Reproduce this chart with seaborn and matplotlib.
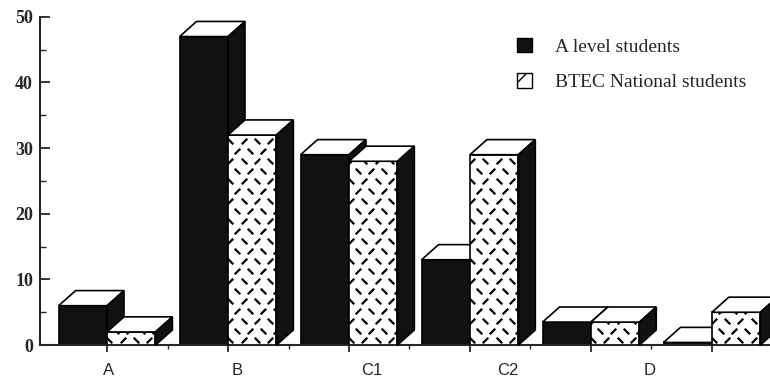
import numpy as np
import pandas as pd
import matplotlib
matplotlib.use('Agg')
import matplotlib.pyplot as plt
import seaborn as sns
from matplotlib.patches import Polygon, Patch
from matplotlib.path import Path
from matplotlib.transforms import ScaledTranslation

grades = ['A', 'B', 'C1', 'C2', 'D', 'E']
tick_labels = ['A', 'B', 'C1', 'C2', 'D', '']
a_level = [6, 47, 29, 13, 3.5, 0.4]
btec = [2, 32, 28, 29, 3.5, 5]
series = ['A level students', 'BTEC National students']

df = pd.DataFrame({
    'grade': grades * 2,
    'pct': a_level + btec,
    'group': [series[0]] * len(grades) + [series[1]] * len(grades),
})

sns.set_style('ticks')
plt.rcParams['font.family'] = ['Liberation Serif', 'DejaVu Serif']

dark = '#111111'
fig = plt.figure(figsize=(7.7, 3.83), dpi=100)
ax = fig.add_axes([0.052, 0.099, 0.948, 0.857])

sns.barplot(data=df, x='grade', y='pct', hue='group', palette=[dark, 'white'],
            edgecolor='black', linewidth=1.2, width=0.8, saturation=1,
            errorbar=None, legend=False, ax=ax)

# fake 3d: top and side faces on each bar
dx, dy = 0.14, 2.3
back = Path([(-1, 1), (1, -1)], [Path.MOVETO, Path.LINETO])
fwd = Path([(-1, -1), (1, 1)], [Path.MOVETO, Path.LINETO])
for k, cont in enumerate(ax.containers):
    z = 2 + k
    for bar in cont:
        x0, w, h = bar.get_x(), bar.get_width(), bar.get_height()
        x1 = x0 + w
        bar.set_zorder(z)
        top = Polygon([(x0, h), (x1, h), (x1 + dx, h + dy), (x0 + dx, h + dy)],
                      facecolor='white', edgecolor='black', lw=1.2, zorder=z, clip_on=False)
        side = Polygon([(x1, 0), (x1 + dx, dy), (x1 + dx, h + dy), (x1, h)],
                       facecolor=dark, edgecolor='black', lw=1.2, zorder=z, clip_on=False)
        ax.add_patch(top)
        ax.add_patch(side)
        if k == 1:
            # tread-plate texture on the BTEC front face
            pts = {0: ([], []), 1: ([], [])}
            for r, yy in enumerate(np.arange(0.7, h + 1, 1.52)):
                off = (r % 2) * 0.054
                for i, xx in enumerate(np.arange(x0 + 0.02 + off, x1 + 0.05, 0.108)):
                    o = (i + r // 2) % 2
                    pts[o][0].append(xx)
                    pts[o][1].append(yy)
            for o, mk in ((0, back), (1, fwd)):
                ln, = ax.plot(pts[o][0], pts[o][1], ls='none', marker=mk, markersize=4,
                              markeredgewidth=1.6, color='black', zorder=z + 0.5)
                ln.set_clip_path(bar)

ax.set_xlim(-0.554, 5.48)
ax.set_ylim(0, 50)
ax.set_yticks(range(0, 51, 10))
ax.set_yticks(range(5, 50, 10), minor=True)
ax.set_xticks(range(len(grades)))
ax.set_xticks(np.arange(0.5, 5, 1), minor=True)
ax.set_xticklabels(tick_labels, fontfamily='Liberation Sans', fontsize=12)
ax.set_xlabel('')
ax.set_ylabel('')

ax.tick_params(axis='y', which='major', direction='in', length=7, width=1.3,
               labelsize=13, pad=5)
ax.tick_params(axis='y', which='minor', direction='in', length=4, width=1)
ax.tick_params(axis='x', which='major', direction='out', length=5, width=1.3, pad=8)
ax.tick_params(axis='x', which='minor', direction='out', length=3, width=1)
for t in ax.get_yticklabels():
    t.set_fontweight('bold')

# labels sit a bit to the right of their ticks in the original
shifts = [1, 9, 23, 38, 59, 0]
for t, s in zip(ax.get_xticklabels(), shifts):
    t.set_transform(t.get_transform() + ScaledTranslation(s / 100, 0, fig.dpi_scale_trans))

sns.despine(ax=ax)
ax.spines['left'].set_linewidth(1.5)
ax.spines['bottom'].set_linewidth(1.5)

handles = [Patch(facecolor=dark, edgecolor='black'),
           Patch(facecolor='white', edgecolor='black', hatch='/')]
ax.legend(handles, series, loc='upper left', bbox_to_anchor=(0.64, 0.965),
          frameon=False, fontsize=14, handlelength=0.75, handleheight=0.75,
          handletextpad=1.2, labelspacing=0.9, borderpad=0)

fig.savefig('out.png', dpi=100)
